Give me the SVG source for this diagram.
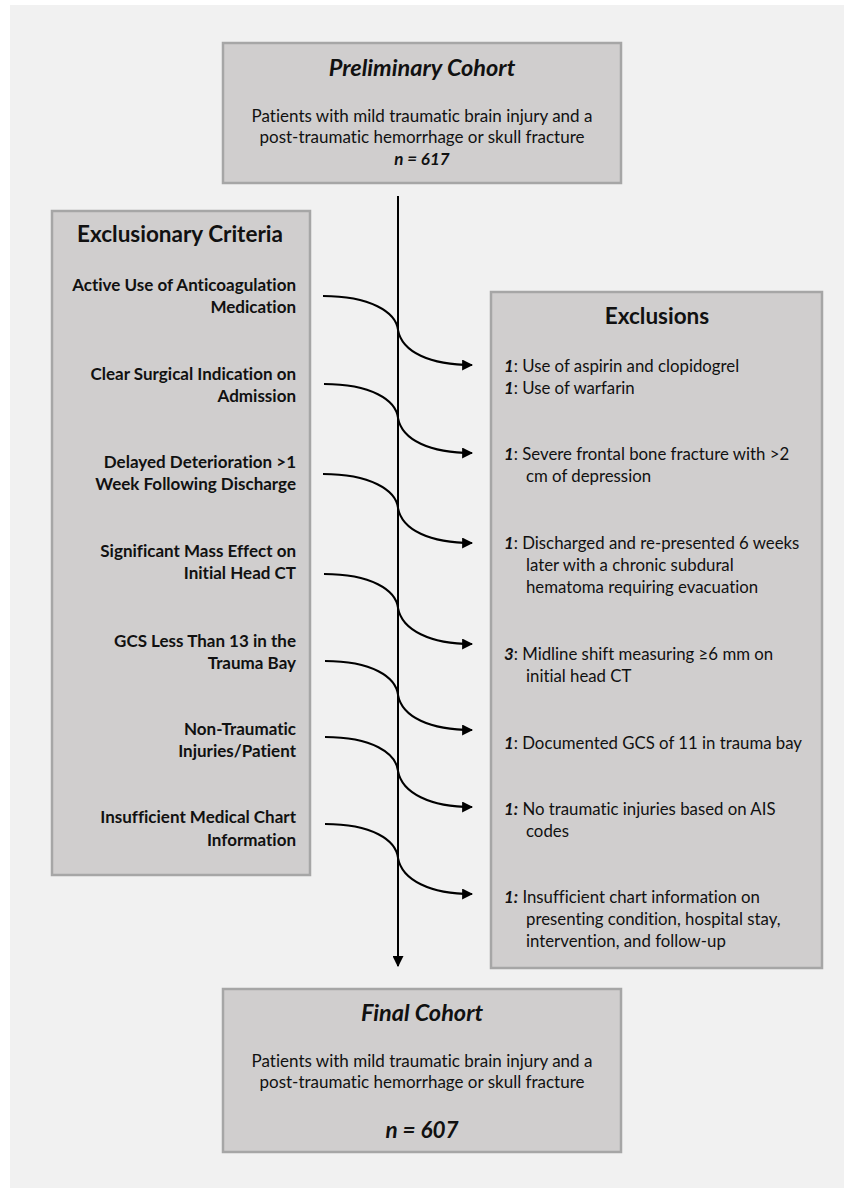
<svg xmlns="http://www.w3.org/2000/svg" width="844" height="1188" viewBox="0 0 844 1188">
<defs>
<style>
text{font-family:Lato,"Liberation Sans",sans-serif;fill:#111;font-variant-ligatures:none;font-feature-settings:"liga" 0,"dlig" 0;}
.box{fill:#d0cece;stroke:#a6a6a6;stroke-width:2.5;}
.ttl{font-size:23.5px;font-weight:bold;font-style:italic;text-anchor:middle;}
.hd{font-size:22.5px;font-weight:bold;}
.body{font-size:17px;text-anchor:middle;}
.crit{font-size:17px;font-weight:bold;text-anchor:end;}
.exc{font-size:16.8px;}
.num{font-weight:bold;font-style:italic;}
.conn{fill:none;stroke:#000;stroke-width:2;}
</style>
<marker id="ah" viewBox="0 0 10 10" refX="9" refY="5" markerWidth="5.5" markerHeight="5.5" orient="auto" markerUnits="strokeWidth">
<path d="M0,0 L10,5 L0,10 Z" fill="#000"/>
</marker>
</defs>
<rect x="0" y="0" width="844" height="1188" fill="#ffffff"/>
<rect x="10" y="5" width="834" height="1183" fill="#f1f1f1"/>

<g id="preliminary-cohort">
<rect class="box" x="223" y="43" width="398" height="140"/>
<text class="ttl" x="422" y="76">Preliminary Cohort</text>
<text class="body" x="422" y="122">Patients with mild traumatic brain injury and a</text>
<text class="body" x="422" y="143">post-traumatic hemorrhage or skull fracture</text>
<text class="body num" x="422" y="165">n = 617</text>
</g>

<g id="exclusionary-criteria">
<rect class="box" x="52" y="211" width="258" height="664"/>
<text class="hd" x="180" y="242" text-anchor="middle">Exclusionary Criteria</text>
<text class="crit" x="296" y="291">Active Use of Anticoagulation</text>
<text class="crit" x="296" y="313">Medication</text>
<text class="crit" x="296" y="380">Clear Surgical Indication on</text>
<text class="crit" x="296" y="402">Admission</text>
<text class="crit" x="296" y="468">Delayed Deterioration &gt;1</text>
<text class="crit" x="296" y="490">Week Following Discharge</text>
<text class="crit" x="296" y="557">Significant Mass Effect on</text>
<text class="crit" x="296" y="579">Initial Head CT</text>
<text class="crit" x="296" y="647">GCS Less Than 13 in the</text>
<text class="crit" x="296" y="669">Trauma Bay</text>
<text class="crit" x="296" y="735">Non-Traumatic</text>
<text class="crit" x="296" y="757">Injuries/Patient</text>
<text class="crit" x="296" y="823">Insufficient Medical Chart</text>
<text class="crit" x="296" y="846">Information</text>
</g>

<g id="exclusions">
<rect class="box" x="491" y="292" width="331" height="676"/>
<text class="hd" x="657" y="324" text-anchor="middle">Exclusions</text>
<text class="exc" x="504" y="372"><tspan class="num">1</tspan>: Use of aspirin and clopidogrel</text>
<text class="exc" x="504" y="394"><tspan class="num">1</tspan>: Use of warfarin</text>
<text class="exc" x="504" y="460"><tspan class="num">1</tspan>: Severe frontal bone fracture with &gt;2</text>
<text class="exc" x="526" y="482">cm of depression</text>
<text class="exc" x="504" y="549"><tspan class="num">1</tspan>: Discharged and re-presented 6 weeks</text>
<text class="exc" x="526" y="571">later with a chronic subdural</text>
<text class="exc" x="526" y="593">hematoma requiring evacuation</text>
<text class="exc" x="504" y="660"><tspan class="num">3</tspan>: Midline shift measuring ≥6 mm on</text>
<text class="exc" x="526" y="682">initial head CT</text>
<text class="exc" x="504" y="749"><tspan class="num">1</tspan>: Documented GCS of 11 in trauma bay</text>
<text class="exc" x="504" y="815"><tspan class="num">1:</tspan> No traumatic injuries based on AIS</text>
<text class="exc" x="526" y="837">codes</text>
<text class="exc" x="504" y="903"><tspan class="num">1:</tspan> Insufficient chart information on</text>
<text class="exc" x="526" y="925">presenting condition, hospital stay,</text>
<text class="exc" x="526" y="947">intervention, and follow-up</text>
</g>

<g id="final-cohort">
<rect class="box" x="223" y="989" width="398" height="163"/>
<text class="ttl" x="422" y="1021">Final Cohort</text>
<text class="body" x="422" y="1067">Patients with mild traumatic brain injury and a</text>
<text class="body" x="422" y="1088">post-traumatic hemorrhage or skull fracture</text>
<text class="body num" x="422" y="1138" style="font-size:22.5px">n = 607</text>
</g>

<g id="connectors">
<path class="conn" d="M398,196 L398,966" marker-end="url(#ah)"/>
<path class="conn" d="M323,296 C370,296 396,312 398,330 C402,352 430,365 472,365" marker-end="url(#ah)"/>
<path class="conn" d="M324,384 C371,384 396,400 398,418 C402,440 430,453 472,453" marker-end="url(#ah)"/>
<path class="conn" d="M323,474 C370,474 396,490 398,508 C402,530 430,543 472,543" marker-end="url(#ah)"/>
<path class="conn" d="M324,574 C371,574 396,590 398,608 C402,630 430,644 472,644" marker-end="url(#ah)"/>
<path class="conn" d="M325,661 C372,661 396,677 398,695 C402,717 430,730 472,730" marker-end="url(#ah)"/>
<path class="conn" d="M325,737 C372,737 396,753 398,771 C402,793 430,807 472,807" marker-end="url(#ah)"/>
<path class="conn" d="M325,824 C372,824 396,840 398,858 C402,880 430,894 472,894" marker-end="url(#ah)"/>
</g>
</svg>
